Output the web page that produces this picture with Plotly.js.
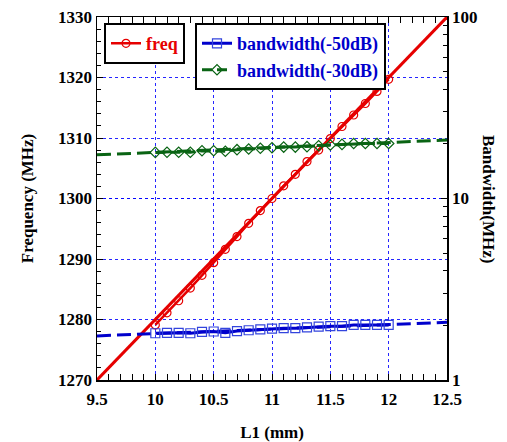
<!DOCTYPE html>
<html>
<head>
<meta charset="utf-8">
<script src="https://cdn.plot.ly/plotly-3.0.1.min.js"></script>
<style>html,body{margin:0;padding:0;background:#fff;}#chart{width:507px;height:442px;}</style>
</head>
<body>
<div id="chart"></div>
<script>
// L1 (mm) sample points
const L1 = [10.0,10.1,10.2,10.3,10.4,10.5,10.6,10.7,10.8,10.9,11.0,11.1,11.2,11.3,11.4,11.5,11.6,11.7,11.8,11.9,12.0];
// Frequency (MHz)
const freq = [1279.1,1281.1,1283.1,1285.2,1287.3,1289.4,1291.6,1293.7,1295.9,1298.0,1300.0,1302.1,1304.0,1306.1,1308.0,1309.9,1311.9,1313.8,1315.7,1317.7,1319.7];
// Bandwidth (MHz)
const bw50 = [1.81,1.82,1.82,1.81,1.84,1.85,1.82,1.86,1.88,1.90,1.92,1.93,1.93,1.95,1.97,1.98,1.98,2.01,2.01,2.01,2.01];
const bw30 = [17.95,17.97,17.97,17.97,18.34,18.34,18.2,18.58,18.74,18.9,19.05,19.2,19.2,19.3,19.54,19.7,19.87,20.1,20.1,20.1,20.1];
// fitted trend lines (end points)
const fitX = [9.5,12.5];
const freqFit = [1270,1330];
const bw50Fit = [1.75,2.08];
const bw30Fit = [17.4,21.0];
// tick labels
const xTicks = [9.5,10,10.5,11,11.5,12,12.5];
const xTickText = ['9.5','10','10.5','11','11.5','12','12.5'];
const yTicks = [1270,1280,1290,1300,1310,1320,1330];
const y2Ticks = [1,10,100];
const y2Minor = [2,3,4,5,6,7,8,9,20,30,40,50,60,70,80,90];

const RED = '#e60000', BLUE = '#0000cc', GREEN = '#0a6414';
const FAM = 'Liberation Serif';
const FONT = {family:FAM, size:17, color:'#000', weight:'bold'};

const traces = [
  {x:fitX, y:freqFit, mode:'lines', line:{color:RED,width:3}, showlegend:false, hoverinfo:'skip'},
  {x:fitX, y:bw50Fit, yaxis:'y2', mode:'lines', line:{color:BLUE,width:3,dash:'14px,6px'}, showlegend:false, hoverinfo:'skip'},
  {x:fitX, y:bw30Fit, yaxis:'y2', mode:'lines', line:{color:GREEN,width:3,dash:'14px,6px'}, showlegend:false, hoverinfo:'skip'},
  {x:L1, y:freq, name:'freq', mode:'lines+markers', line:{color:RED,width:2.5}, marker:{symbol:'circle-open',size:8,color:RED,line:{width:1.2}}, legend:'legend'},
  {x:L1, y:bw50, yaxis:'y2', name:'bandwidth(-50dB)', mode:'lines+markers', line:{color:BLUE,width:3}, marker:{symbol:'square-open',size:9,color:'#3344dd',line:{width:1.2}}, legend:'legend2'},
  {x:L1, y:bw30, yaxis:'y2', name:'bandwidth(-30dB)', mode:'lines+markers', line:{color:GREEN,width:3,dash:'10px,5px'}, marker:{symbol:'diamond-open',size:8,color:GREEN,line:{width:1.2}}, legend:'legend2'}
];

const gridBlue = 'rgba(0,0,255,0.85)';
const layout = {
  width:507, height:442,
  margin:{l:97, r:60, t:17, b:62},
  paper_bgcolor:'#fff', plot_bgcolor:'#fff',
  font:FONT,
  showlegend:true,
  xaxis:{range:[9.5,12.5], tickvals:xTicks, ticktext:xTickText, ticks:'inside', ticklen:6, tickcolor:'#000',
         showline:true, linecolor:'#000', linewidth:1.5, mirror:'allticks', ticklabelstandoff:3,
         showgrid:true, gridcolor:gridBlue, griddash:'dot', gridwidth:1, zeroline:false,
         minor:{dtick:0.1, ticks:'inside', ticklen:4, tickcolor:'#000', showgrid:false},
         tickfont:FONT, title:{text:'L1 (mm)', font:FONT, standoff:18}},
  yaxis:{range:[1270,1330], tickvals:yTicks, ticks:'inside', ticklen:6, tickcolor:'#000',
         showline:true, linecolor:'#000', linewidth:1.5,
         showgrid:true, gridcolor:gridBlue, griddash:'dot', gridwidth:1, zeroline:false,
         minor:{dtick:2, ticks:'inside', ticklen:4, tickcolor:'#000', showgrid:false},
         tickfont:FONT, title:{text:'Frequency (MHz)', font:FONT, standoff:20}},
  yaxis2:{type:'log', range:[0,2], overlaying:'y', side:'right', tickvals:y2Ticks, ticktext:['1','10','100'],
          ticks:'inside', ticklen:6, tickcolor:'#000',
          showline:true, linecolor:'#000', linewidth:1.5,
          showgrid:true, gridcolor:gridBlue, griddash:'dot', gridwidth:1, zeroline:false,
          minor:{tickvals:y2Minor, ticks:'inside', ticklen:4, tickcolor:'#000', showgrid:false},
          tickfont:FONT},
  legend:{x:0.02, y:0.983, xanchor:'left', yanchor:'top', bgcolor:'#fff', bordercolor:'#000', borderwidth:2,
          font:{family:FAM, size:18, weight:'bold', color:RED}},
  legend2:{x:0.28, y:0.983, xanchor:'left', yanchor:'top', bgcolor:'#fff', bordercolor:'#000', borderwidth:2,
          font:{family:FAM, size:18, weight:'bold', color:BLUE}},
  annotations:[{text:'Bandwidth(MHz)', xref:'paper', yref:'paper', x:1, xshift:53, y:0.5, textangle:90,
                showarrow:false, font:FONT}]
};

Plotly.newPlot('chart', traces, layout, {displayModeBar:false, staticPlot:true}).then(()=>{
  // color legend texts per series
  document.querySelectorAll('.legend .traces').forEach(g=>{
    const t = g.querySelector('text.legendtext');
    if (!t) return;
    const s = t.textContent;
    if (s.indexOf('-30dB')>=0) t.style.fill = GREEN;
    else if (s.indexOf('-50dB')>=0) t.style.fill = BLUE;
    else t.style.fill = RED;
  });
});
</script>
</body>
</html>
